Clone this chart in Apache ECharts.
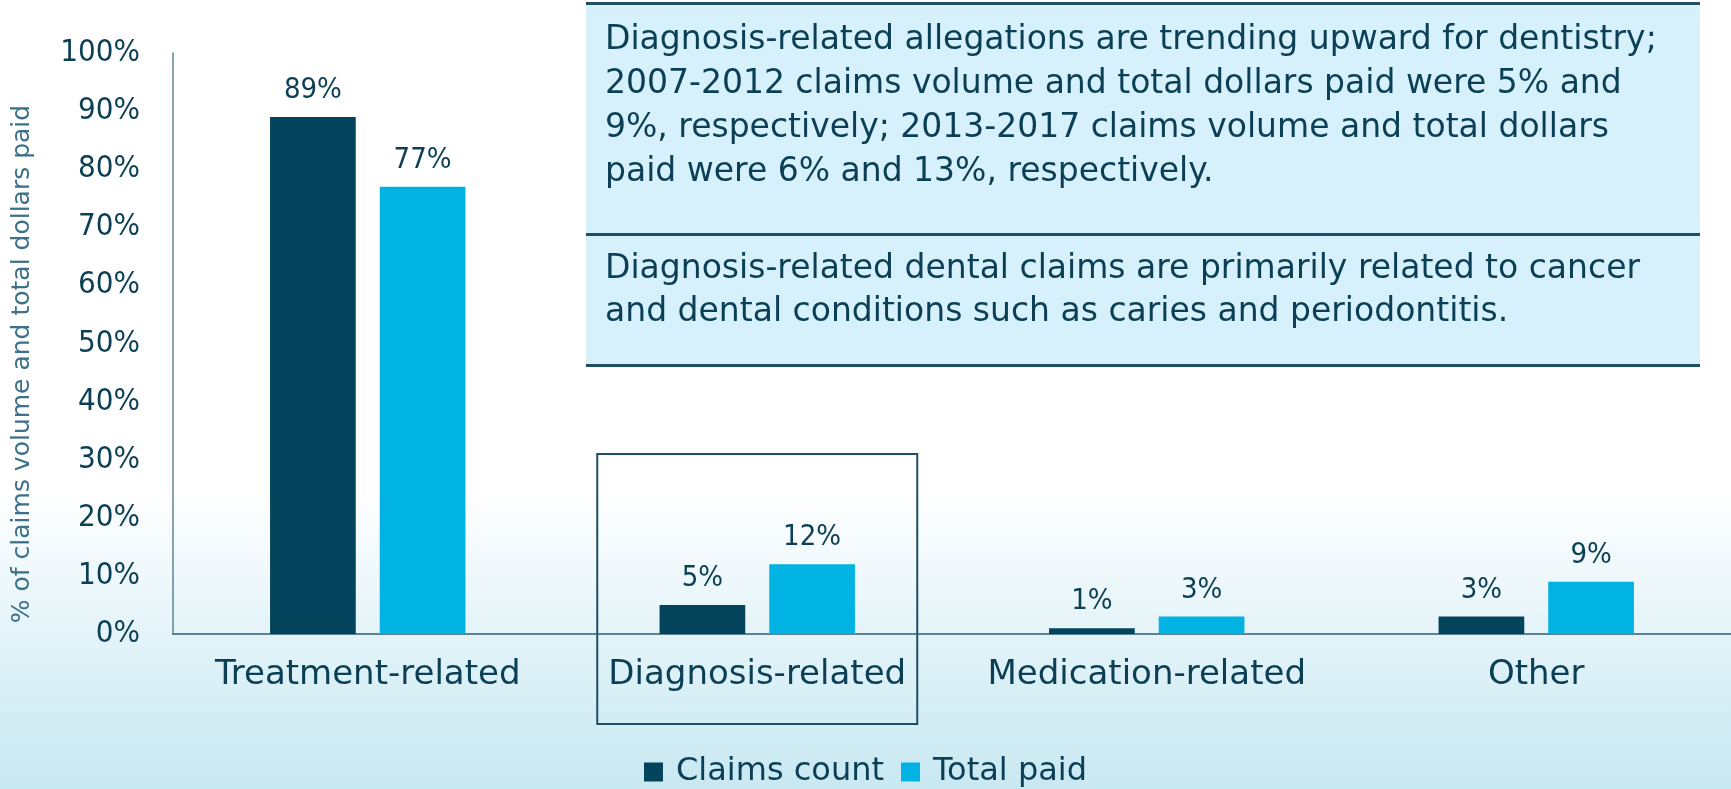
<!DOCTYPE html>
<html>
<head>
<meta charset="utf-8">
<script src="https://cdn.jsdelivr.net/npm/echarts@6/dist/echarts.min.js"></script>
<style>
  html, body { margin: 0; padding: 0; }
  #main { width: 1731px; height: 789px; }
</style>
</head>
<body>
<div id="main"></div>
<script>
// data
const categories = ['Treatment-related', 'Diagnosis-related', 'Medication-related', 'Other'];
const claimsCount = [89, 5, 1, 3];
const totalPaid = [77, 12, 3, 9];
const seriesNames = ['Claims count', 'Total paid'];
const yAxisTitle = '% of claims volume and total dollars paid';
const noteTop = 'Diagnosis-related allegations are trending upward for dentistry;\n2007-2012 claims volume and total dollars paid were 5% and\n9%, respectively; 2013-2017 claims volume and total dollars\npaid were 6% and 13%, respectively.';
const noteBottom = 'Diagnosis-related dental claims are primarily related to cancer\nand dental conditions such as caries and periodontitis.';

const dark = '#03435C';
const light = '#00B3E3';
const textColor = '#0B3F55';
const font = 'DejaVu Sans';
// 数字标签用窄字体
const narrow = '"Liberation Sans Narrow", "DejaVu Sans Condensed", sans-serif';

const chart = echarts.init(document.getElementById('main'));

const barLabel = {
    show: true,
    position: 'top',
    distance: 12,
    formatter: '{c}%',
    fontSize: 29,
    fontFamily: narrow,
    color: textColor
};

const option = {
    backgroundColor: {
        type: 'linear', x: 0, y: 0, x2: 0, y2: 1,
        colorStops: [
            { offset: 0, color: '#ffffff' },
            { offset: 0.62, color: '#ffffff' },
            { offset: 0.88, color: '#D8EFF6' },
            { offset: 1, color: '#C8E8F2' }
        ]
    },
    textStyle: { fontFamily: font },
    grid: { left: 173, right: 0, top: 53, bottom: 155 },
    legend: {
        data: seriesNames,
        bottom: -4,
        icon: 'rect',
        itemWidth: 19,
        itemHeight: 19,
        itemGap: 17,
        textStyle: { fontSize: 32, color: textColor, fontFamily: font, padding: [0, 0, 0, 8] }
    },
    xAxis: {
        type: 'category',
        data: categories,
        axisTick: { show: false },
        axisLine: { lineStyle: { color: '#2E5E74', width: 1.5 } },
        axisLabel: { fontSize: 34, color: textColor, margin: 24, interval: 0, hideOverlap: false }
    },
    yAxis: {
        type: 'value',
        min: 0,
        max: 100,
        interval: 10,
        axisLine: { show: true, lineStyle: { color: '#5D8499', width: 1.5 } },
        axisTick: { show: false },
        splitLine: { show: false },
        axisLabel: { formatter: '{value}%', fontSize: 31, fontFamily: narrow, color: textColor, margin: 33 }
    },
    series: [
        {
            name: seriesNames[0],
            type: 'bar',
            data: claimsCount,
            barWidth: '22%',
            barGap: '28%',
            itemStyle: { color: dark },
            label: barLabel
        },
        {
            name: seriesNames[1],
            type: 'bar',
            data: totalPaid,
            barWidth: '22%',
            itemStyle: { color: light },
            label: barLabel
        }
    ]
};

chart.setOption(option);

// 右上角说明框 + 诊断类的框
const cx = chart.convertToPixel({ xAxisIndex: 0 }, categories[1]);
chart.setOption({
    graphic: [
        { type: 'rect', shape: { x: 586, y: 3, width: 1114, height: 363 }, style: { fill: '#D6F1FB' } },
        { type: 'rect', shape: { x: 586, y: 2, width: 1114, height: 3 }, style: { fill: '#1F4F63' } },
        { type: 'rect', shape: { x: 586, y: 233, width: 1114, height: 3 }, style: { fill: '#1F4F63' } },
        { type: 'rect', shape: { x: 586, y: 364, width: 1114, height: 3 }, style: { fill: '#1F4F63' } },
        {
            type: 'text', x: 605, y: 18,
            style: { text: noteTop, font: '33px "DejaVu Sans"', fill: textColor, lineHeight: 44 }
        },
        {
            type: 'text', x: 605, y: 248,
            style: { text: noteBottom, font: '33px "DejaVu Sans"', fill: textColor, lineHeight: 43 }
        },
        {
            type: 'rect', shape: { x: cx - 160, y: 454, width: 320, height: 270 },
            style: { fill: 'none', stroke: '#1F4F63', lineWidth: 2 }
        },
        {
            // y轴标题
            type: 'text', x: 22, y: 364, rotation: Math.PI / 2,
            style: {
                text: yAxisTitle, font: '25px "DejaVu Sans"', fill: '#3D7089',
                align: 'center', verticalAlign: 'middle'
            }
        }
    ]
});
</script>
</body>
</html>
